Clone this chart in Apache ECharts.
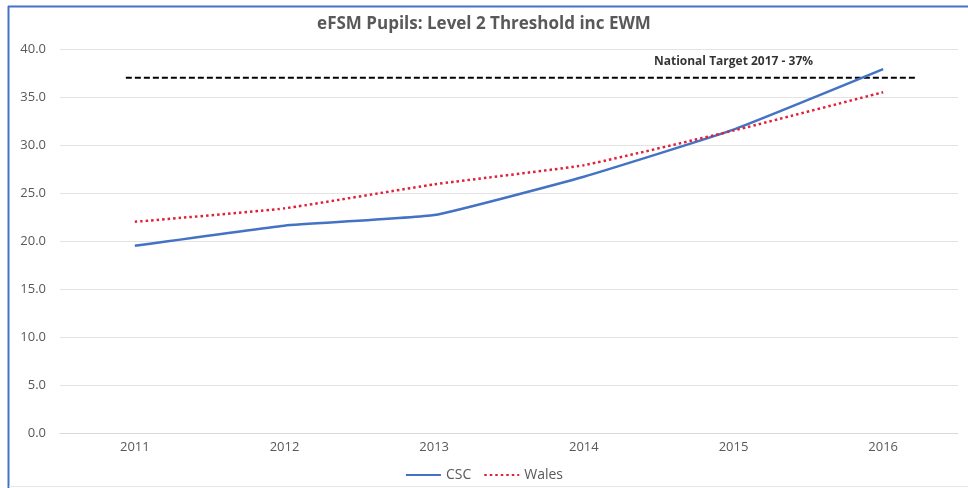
<!DOCTYPE html>
<html>
<head>
<meta charset="utf-8">
<script src="https://cdn.jsdelivr.net/npm/echarts@6/dist/echarts.min.js"></script>
<style>
html,body{margin:0;padding:0;background:#fff;}
#chart{width:968px;height:488px;}
</style>
</head>
<body>
<div id="chart"></div>
<script>
var categories = ['2011', '2012', '2013', '2014', '2015', '2016'];
var cscValues = [19.5, 21.6, 22.7, 26.7, 31.6, 37.9];
var walesValues = [22.0, 23.4, 25.9, 27.9, 31.5, 35.5];
var targetValue = 37;
var targetSpan = [2010.94, 2016.23];
var targetLabelYear = 2015;
var targetLabelText = 'National Target 2017 - 37%';
var yTicks = { min: 0, max: 40, interval: 5 };

var FONT = "'Open Sans', 'Noto Sans', sans-serif";
var chart = echarts.init(document.getElementById('chart'));
chart.setOption({
  backgroundColor: '#ffffff',
  animation: false,
  title: {
    text: 'eFSM Pupils: Level 2 Threshold inc EWM',
    left: 'center',
    top: 11,
    textStyle: { fontFamily: FONT, fontSize: 17, fontWeight: 'bold', color: '#595959' }
  },
  legend: {
    data: ['CSC', 'Wales'],
    left: 'center',
    top: 463,
    itemWidth: 35,
    itemHeight: 10,
    itemGap: 12,
    itemStyle: { opacity: 0 },
    textStyle: { fontFamily: FONT, fontSize: 14, color: '#595959' }
  },
  grid: { left: 60, right: 10, top: 49, bottom: 55 },
  xAxis: [{
    type: 'category',
    data: categories,
    boundaryGap: true,
    axisLine: { show: true, lineStyle: { color: '#D9D9D9', width: 1 } },
    axisTick: { show: false },
    axisLabel: { fontFamily: FONT, fontSize: 13, color: '#595959', margin: 8 }
  }, {
    type: 'value',
    min: 2010.5,
    max: 2016.5,
    show: false
  }],
  yAxis: {
    type: 'value',
    min: yTicks.min,
    max: yTicks.max,
    interval: yTicks.interval,
    axisLine: { show: false },
    axisTick: { show: false },
    splitLine: { lineStyle: { color: '#E3E3E3', width: 1 } },
    axisLabel: {
      fontFamily: FONT, fontSize: 13, color: '#595959', margin: 14,
      formatter: function (v) { return v.toFixed(1); }
    }
  },
  series: [{
    name: 'CSC',
    type: 'line',
    data: cscValues,
    smooth: 0.12,
    symbol: 'none',
    lineStyle: { color: '#4472C4', width: 2.5 },
    itemStyle: { color: '#4472C4' },
    z: 3
  }, {
    name: 'Wales',
    type: 'line',
    data: walesValues,
    smooth: 0.12,
    symbol: 'none',
    lineStyle: { color: '#E0203A', width: 2.5, type: [2.5, 3] },
    itemStyle: { color: '#E0203A' },
    z: 3
  }, {
    name: 'Target',
    type: 'line',
    xAxisIndex: 1,
    data: targetSpan.map(function (x) { return [x, targetValue]; }),
    symbol: 'none',
    lineStyle: { color: '#000000', width: 2, type: [6, 3] },
    z: 2
  }, {
    name: 'TargetLabel',
    type: 'scatter',
    xAxisIndex: 1,
    data: [[targetLabelYear, targetValue]],
    symbolSize: 0,
    label: {
      show: true,
      position: 'top',
      distance: 10,
      formatter: targetLabelText,
      fontFamily: FONT,
      fontSize: 12,
      fontWeight: 'bold',
      color: '#000000'
    },
    silent: true
  }],
  graphic: [{
    type: 'line',
    shape: { x1: 8.5, y1: 6, x2: 8.5, y2: 488 },
    style: { stroke: '#4472C4', lineWidth: 2 }
  }, {
    type: 'line',
    shape: { x1: 8, y1: 6.5, x2: 968, y2: 6.5 },
    style: { stroke: '#4472C4', lineWidth: 2 }
  }, {
    type: 'line',
    shape: { x1: 9, y1: 486.5, x2: 968, y2: 486.5 },
    style: { stroke: '#E6E6E6', lineWidth: 1 }
  }]
});
</script>
</body>
</html>
